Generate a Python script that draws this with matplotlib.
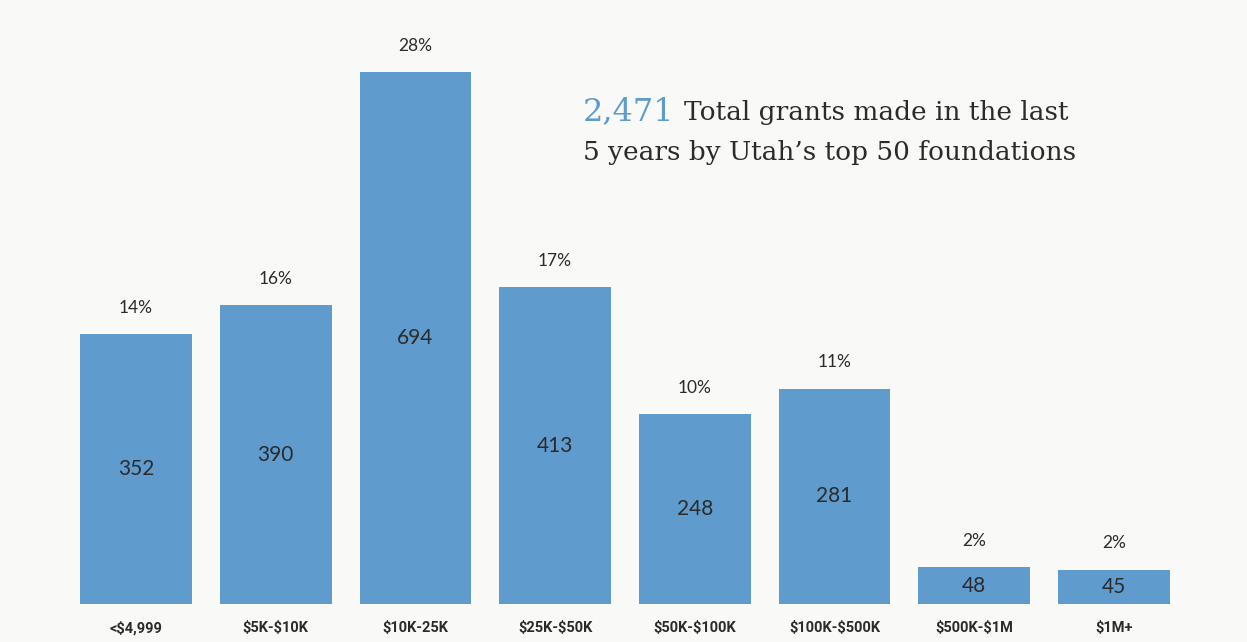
import matplotlib
matplotlib.use('Agg')
import matplotlib.pyplot as plt

plt.rcParams['text.parse_math'] = False

# grant size buckets and counts
categories = ['<$4,999', '$5K-$10K', '$10K-25K', '$25K-$50K',
              '$50K-$100K', '$100K-$500K', '$500K-$1M', '$1M+']
counts = [352, 390, 694, 413, 248, 281, 48, 45]
shares = ['14%', '16%', '28%', '17%', '10%', '11%', '2%', '2%']
total = '2,471'

bg = '#f9f9f7'
blue = '#5f9bcd'
dark = '#2b2b2b'

fig = plt.figure(figsize=(12.47, 6.42), dpi=100, facecolor=bg)
ax = fig.add_axes([0, 1 - 604 / 642, 1, 604 / 642])
ax.set_facecolor(bg)

x = range(len(categories))
bars = ax.bar(x, counts, width=0.8, color=blue)
ax.set_xlim(-0.9735, 7.953)
ax.set_ylim(0, 694 * 604 / 532)

for b, c, s in zip(bars, counts, shares):
    cx = b.get_x() + b.get_width() / 2
    ax.text(cx, c / 2, str(c), ha='center', va='center',
            fontsize=15, family='Lato', color=dark)
    ax.annotate(s, (cx, c), xytext=(0, 19), textcoords='offset points',
                ha='center', va='center', fontsize=12.5, family='Lato', color=dark)

ax.set_xticks(list(x))
ax.set_xticklabels(categories, fontsize=10.5, family='Roboto',
                   fontweight='bold', color=dark)
ax.tick_params(axis='x', length=0, pad=12)
ax.tick_params(axis='y', left=False, labelleft=False)
for sp in ax.spines.values():
    sp.set_visible(False)

# headline: blue number followed by dark text
fig.canvas.draw()
r = fig.canvas.get_renderer()
t1 = fig.text(583 / 1247, 1 - 120 / 642, total, fontsize=23,
              family='DejaVu Serif', color=blue, va='baseline')
w = t1.get_window_extent(renderer=r).width
fig.text((583 + w + 9) / 1247, 1 - 120 / 642, 'Total grants made in the last',
         fontsize=19, family='DejaVu Serif', color=dark, va='baseline')
fig.text(583 / 1247, 1 - 160 / 642, '5 years by Utah\u2019s top 50 foundations',
         fontsize=19, family='DejaVu Serif', color=dark, va='baseline')

fig.savefig('out.png', dpi=100, facecolor=bg)
